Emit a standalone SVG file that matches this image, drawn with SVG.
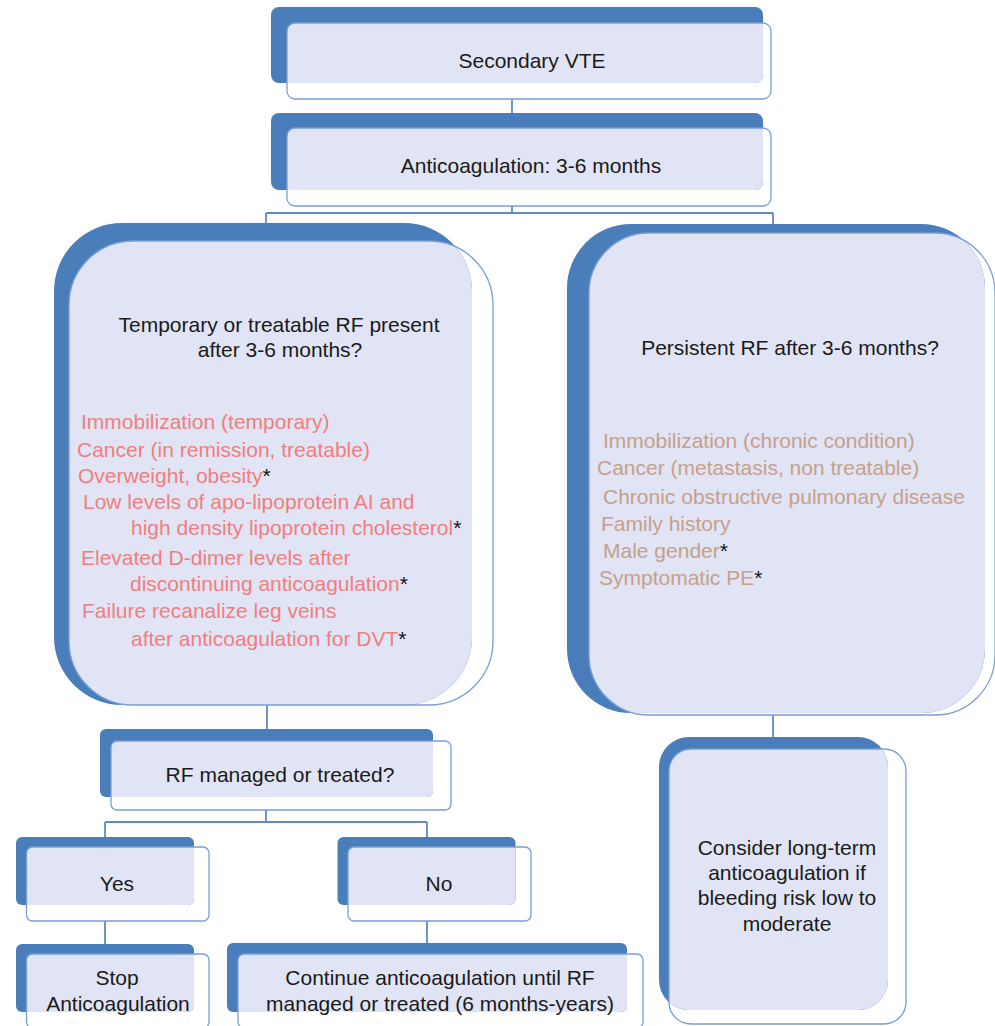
<svg xmlns="http://www.w3.org/2000/svg" xmlns:xlink="http://www.w3.org/1999/xlink" width="995" height="1026" viewBox="0 0 995 1026">
  <style>
    .back { fill: #4a7ebb; }
    .fill { fill: #e0e4f4; }
    .front { fill: none; stroke: #7a9fd6; stroke-width: 1.3; }
    .wire { stroke: #5f8bc8; stroke-width: 1.8; fill: none; }
    text { font-family: "Liberation Sans", Arial, Helvetica, sans-serif; font-size: 21px; }
    .t { fill: #1a1a1a; text-anchor: middle; }
    .red { fill: #f17e7e; }
    .tan { fill: #c6a08a; }
    .star { fill: #111111; }
  </style>

  <defs>
    <!-- back plates; the pale panel is shown only where it overlaps its plate -->
    <rect id="b1" x="271" y="7" width="492" height="76" rx="8"/>
    <rect id="b2" x="271" y="113" width="492" height="77" rx="8"/>
    <rect id="b3" x="54" y="223" width="418" height="482" rx="68"/>
    <rect id="b4" x="567" y="224" width="418" height="489" rx="64"/>
    <rect id="b5" x="100" y="729" width="333" height="68" rx="6"/>
    <rect id="b6" x="16" y="837" width="178" height="68" rx="6"/>
    <rect id="b7" x="337.5" y="837" width="178" height="68" rx="6"/>
    <rect id="b8" x="16" y="944" width="178" height="68" rx="6"/>
    <rect id="b9" x="227" y="943" width="400" height="69" rx="6"/>
    <rect id="b10" x="659" y="737" width="229" height="273" rx="30"/>
    <clipPath id="c1"><use xlink:href="#b1"/></clipPath>
    <clipPath id="c2"><use xlink:href="#b2"/></clipPath>
    <clipPath id="c3"><use xlink:href="#b3"/></clipPath>
    <clipPath id="c4"><use xlink:href="#b4"/></clipPath>
    <clipPath id="c5"><use xlink:href="#b5"/></clipPath>
    <clipPath id="c6"><use xlink:href="#b6"/></clipPath>
    <clipPath id="c7"><use xlink:href="#b7"/></clipPath>
    <clipPath id="c8"><use xlink:href="#b8"/></clipPath>
    <clipPath id="c9"><use xlink:href="#b9"/></clipPath>
    <clipPath id="c10"><use xlink:href="#b10"/></clipPath>
  </defs>

  <rect width="995" height="1026" fill="#ffffff"/>

  <!-- connectors -->
  <g id="connectors">
    <path class="wire" d="M512 99 V113"/>
    <path class="wire" d="M512 206 V213 M266 213 H773 M266 213 V223 M773 213 V224"/>
    <path class="wire" d="M267 705 V729"/>
    <path class="wire" d="M773 715 V737"/>
    <path class="wire" d="M266 810 V822 M105 822 H427 M105 822 V837 M427 822 V837"/>
    <path class="wire" d="M105 921 V944"/>
    <path class="wire" d="M427 921 V943"/>
  </g>

  <g id="secondary-vte">
    <use class="back" xlink:href="#b1"/>
    <rect class="fill" clip-path="url(#c1)" x="287" y="23" width="484" height="76" rx="8"/>
    <rect class="front" x="287" y="23" width="484" height="76" rx="8"/>
    <text class="t" x="532" y="68">Secondary VTE</text>
  </g>

  <g id="anticoagulation">
    <use class="back" xlink:href="#b2"/>
    <rect class="fill" clip-path="url(#c2)" x="287" y="128" width="484" height="78" rx="8"/>
    <rect class="front" x="287" y="128" width="484" height="78" rx="8"/>
    <text class="t" x="531" y="173">Anticoagulation: 3-6 months</text>
  </g>

  <g id="temporary-rf">
    <use class="back" xlink:href="#b3"/>
    <rect class="fill" clip-path="url(#c3)" x="69" y="241" width="424" height="464" rx="64"/>
    <rect class="front" x="69" y="241" width="424" height="464" rx="64"/>
    <text class="t" x="279" y="332">Temporary or treatable RF present</text>
    <text class="t" x="280" y="357">after 3-6 months?</text>
    <text class="red" x="81" y="429">Immobilization (temporary)</text>
    <text class="red" x="77" y="457">Cancer (in remission, treatable)</text>
    <text class="red" x="78" y="483">Overweight, obesity<tspan class="star">*</tspan></text>
    <text class="red" x="83" y="509">Low levels of apo-lipoprotein AI and</text>
    <text class="red" x="131" y="535">high density lipoprotein cholesterol<tspan class="star">*</tspan></text>
    <text class="red" x="81" y="565">Elevated D-dimer levels after</text>
    <text class="red" x="130" y="591">discontinuing anticoagulation<tspan class="star">*</tspan></text>
    <text class="red" x="82" y="618">Failure recanalize leg veins</text>
    <text class="red" x="131" y="646">after anticoagulation for DVT<tspan class="star">*</tspan></text>
  </g>

  <g id="persistent-rf">
    <use class="back" xlink:href="#b4"/>
    <rect class="fill" clip-path="url(#c4)" x="589" y="233" width="406" height="482" rx="60"/>
    <rect class="front" x="589" y="233" width="406" height="482" rx="60"/>
    <text class="t" x="790" y="355">Persistent RF after 3-6 months?</text>
    <text class="tan" x="603" y="448">Immobilization (chronic condition)</text>
    <text class="tan" x="597" y="475">Cancer (metastasis, non treatable)</text>
    <text class="tan" x="603" y="504">Chronic obstructive pulmonary disease</text>
    <text class="tan" x="601" y="531">Family history</text>
    <text class="tan" x="603" y="558">Male gender<tspan class="star">*</tspan></text>
    <text class="tan" x="599" y="585">Symptomatic PE<tspan class="star">*</tspan></text>
  </g>

  <g id="rf-managed">
    <use class="back" xlink:href="#b5"/>
    <rect class="fill" clip-path="url(#c5)" x="111" y="741" width="340" height="69" rx="6"/>
    <rect class="front" x="111" y="741" width="340" height="69" rx="6"/>
    <text class="t" x="280" y="782">RF managed or treated?</text>
  </g>

  <g id="yes">
    <use class="back" xlink:href="#b6"/>
    <rect class="fill" clip-path="url(#c6)" x="26.5" y="847" width="182.5" height="74" rx="6"/>
    <rect class="front" x="26.5" y="847" width="182.5" height="74" rx="6"/>
    <text class="t" x="117" y="891">Yes</text>
  </g>

  <g id="no">
    <use class="back" xlink:href="#b7"/>
    <rect class="fill" clip-path="url(#c7)" x="348" y="847" width="183" height="74" rx="6"/>
    <rect class="front" x="348" y="847" width="183" height="74" rx="6"/>
    <text class="t" x="439" y="891">No</text>
  </g>

  <g id="stop">
    <use class="back" xlink:href="#b8"/>
    <rect class="fill" clip-path="url(#c8)" x="26.5" y="954" width="182.5" height="74" rx="6"/>
    <rect class="front" x="26.5" y="954" width="182.5" height="74" rx="6"/>
    <text class="t" x="117" y="985">Stop</text>
    <text class="t" x="118" y="1011">Anticoagulation</text>
  </g>

  <g id="continue">
    <use class="back" xlink:href="#b9"/>
    <rect class="fill" clip-path="url(#c9)" x="238" y="954" width="405" height="74" rx="6"/>
    <rect class="front" x="238" y="954" width="405" height="74" rx="6"/>
    <text class="t" x="440" y="985">Continue anticoagulation until RF</text>
    <text class="t" x="440" y="1011">managed or treated (6 months-years)</text>
  </g>

  <g id="long-term">
    <use class="back" xlink:href="#b10"/>
    <rect class="fill" clip-path="url(#c10)" x="669" y="749" width="237" height="275" rx="22"/>
    <rect class="front" x="669" y="749" width="237" height="275" rx="22"/>
    <text class="t" x="787" y="855">Consider long-term</text>
    <text class="t" x="787" y="880">anticoagulation if</text>
    <text class="t" x="787" y="905">bleeding risk low to</text>
    <text class="t" x="787" y="931">moderate</text>
  </g>
</svg>
